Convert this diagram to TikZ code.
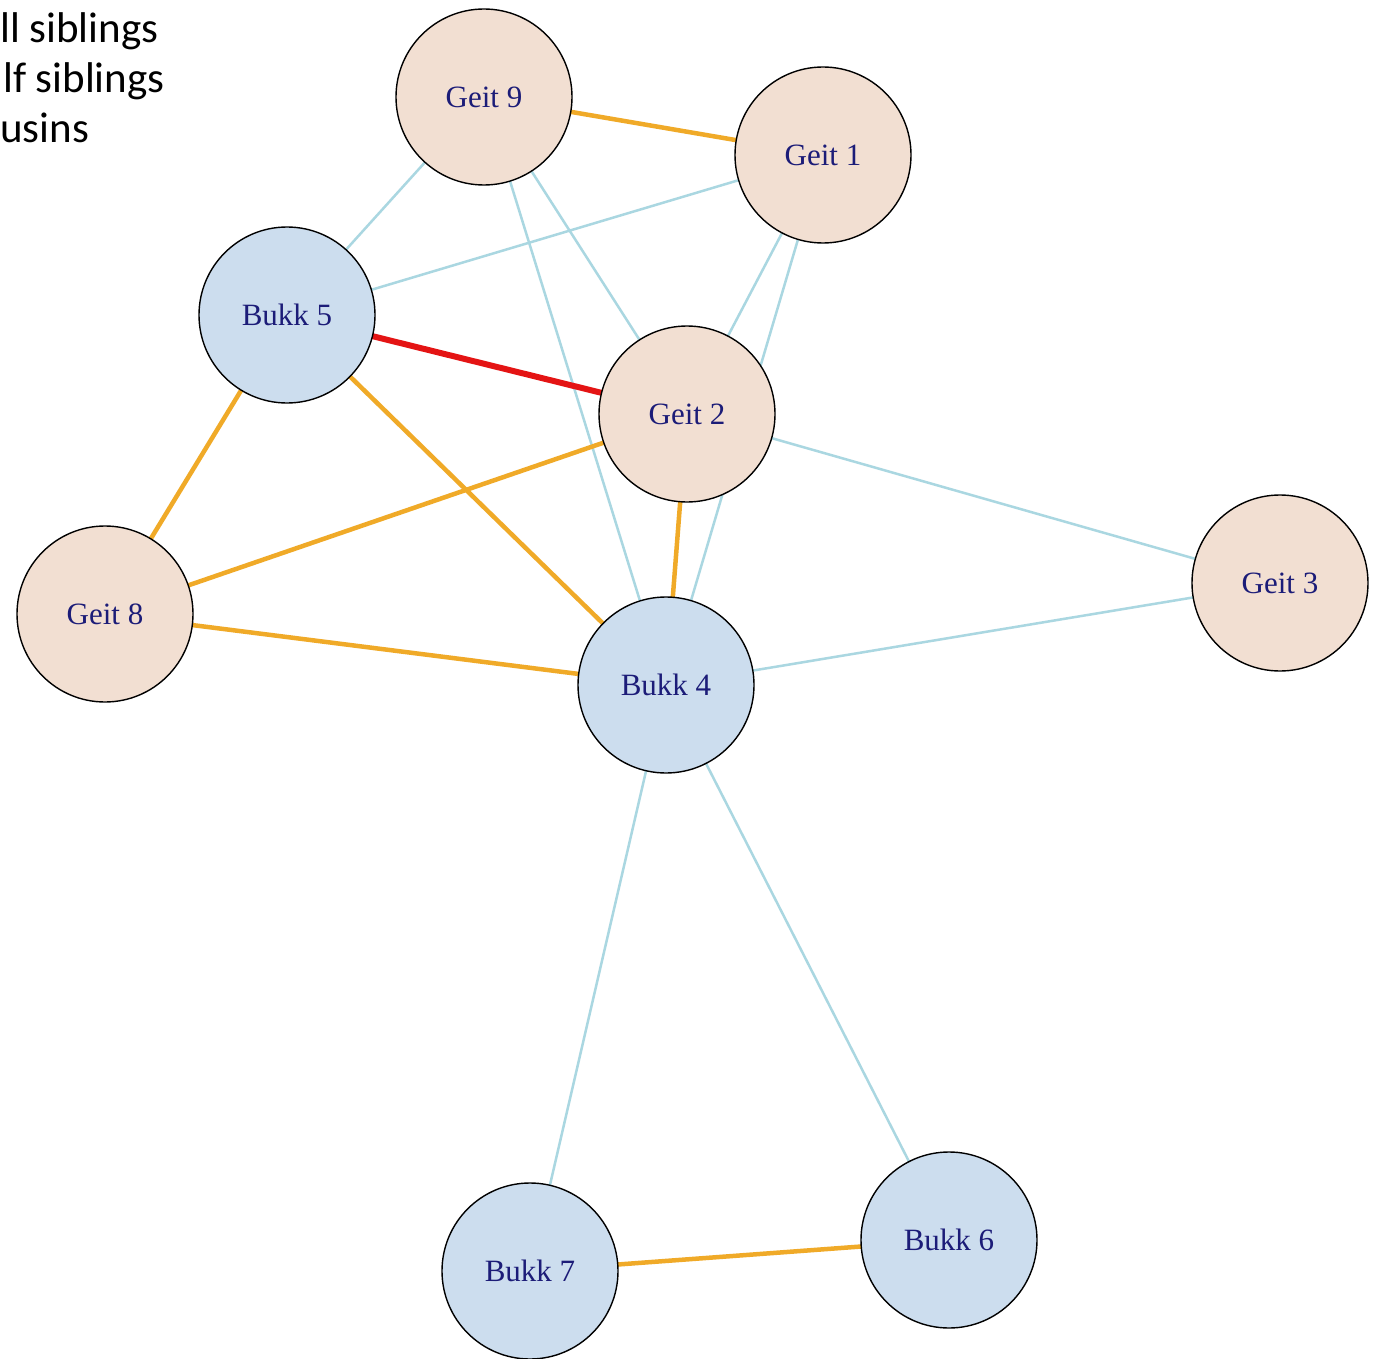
\documentclass[tikz,border=0pt]{standalone}
\usepackage{fontspec}
\setmainfont{Liberation Serif}
\newfontfamily\legendfont{Carlito}
\definecolor{peach}{RGB}{242,223,210}
\definecolor{bluefill}{RGB}{204,221,238}
\definecolor{labelnavy}{RGB}{28,28,120}
\definecolor{edgeorange}{RGB}{240,170,40}
\definecolor{edgeblue}{RGB}{170,215,225}
\definecolor{edgered}{RGB}{228,20,20}
\begin{document}
\begin{tikzpicture}[x=1pt,y=-1pt,
  animal/.style={circle,draw=black,line width=1.4pt,minimum size=176pt,inner sep=0pt,
    text=labelnavy,font=\fontsize{31}{33}\selectfont},
  geit/.style={animal,fill=peach},
  bukk/.style={animal,fill=bluefill},
  cousin/.style={draw=edgeblue,line width=2.5pt},
  half/.style={draw=edgeorange,line width=4.5pt},
  full/.style={draw=edgered,line width=6pt},
  legendtext/.style={anchor=base west,inner sep=0pt,font=\legendfont\fontsize{43}{50}\selectfont}]
\useasboundingbox (0,0) rectangle (1385,1359);
\fill[white] (0,0) rectangle (1385,1359);
% node positions
\coordinate (p9) at (484,97);
\coordinate (p1) at (823,155);
\coordinate (p5) at (287,315);
\coordinate (p2) at (687,414);
\coordinate (p8) at (105,614);
\coordinate (p4) at (666,685);
\coordinate (p3) at (1280,583);
\coordinate (p7) at (530,1271);
\coordinate (p6) at (949,1240);
% edges (drawn under nodes)
\draw[cousin] (p9) -- (p5);
\draw[cousin] (p9) -- (p4);
\draw[cousin] (p9) -- (p2);
\draw[cousin] (p1) -- (p5);
\draw[cousin] (p1) -- (p2);
\draw[cousin] (p1) -- (p4);
\draw[cousin] (p2) -- (p3);
\draw[cousin] (p4) -- (p3);
\draw[cousin] (p4) -- (p7);
\draw[cousin] (p4) -- (p6);
\draw[half] (p9) -- (p1);
\draw[half] (p5) -- (p8);
\draw[half] (p5) -- (p4);
\draw[half] (p2) -- (p8);
\draw[half] (p2) -- (p4);
\draw[half] (p8) -- (p4);
\draw[half] (p7) -- (p6);
\draw[full] (p5) -- (p2);
% nodes
\node[geit] (g9) at (p9) {Geit 9};
\node[geit] (g1) at (p1) {Geit 1};
\node[bukk] (b5) at (p5) {Bukk 5};
\node[geit] (g2) at (p2) {Geit 2};
\node[geit] (g8) at (p8) {Geit 8};
\node[bukk] (b4) at (p4) {Bukk 4};
\node[geit] (g3) at (p3) {Geit 3};
\node[bukk] (b7) at (p7) {Bukk 7};
\node[bukk] (b6) at (p6) {Bukk 6};
% legend (cut off at left edge in the original)
\node[legendtext] (l1) at (0,43) {ll siblings};
\node[legendtext] (l2) at (3,93) {lf siblings};
\node[legendtext] (l3) at (0,143) {usins};
\end{tikzpicture}
\end{document}
